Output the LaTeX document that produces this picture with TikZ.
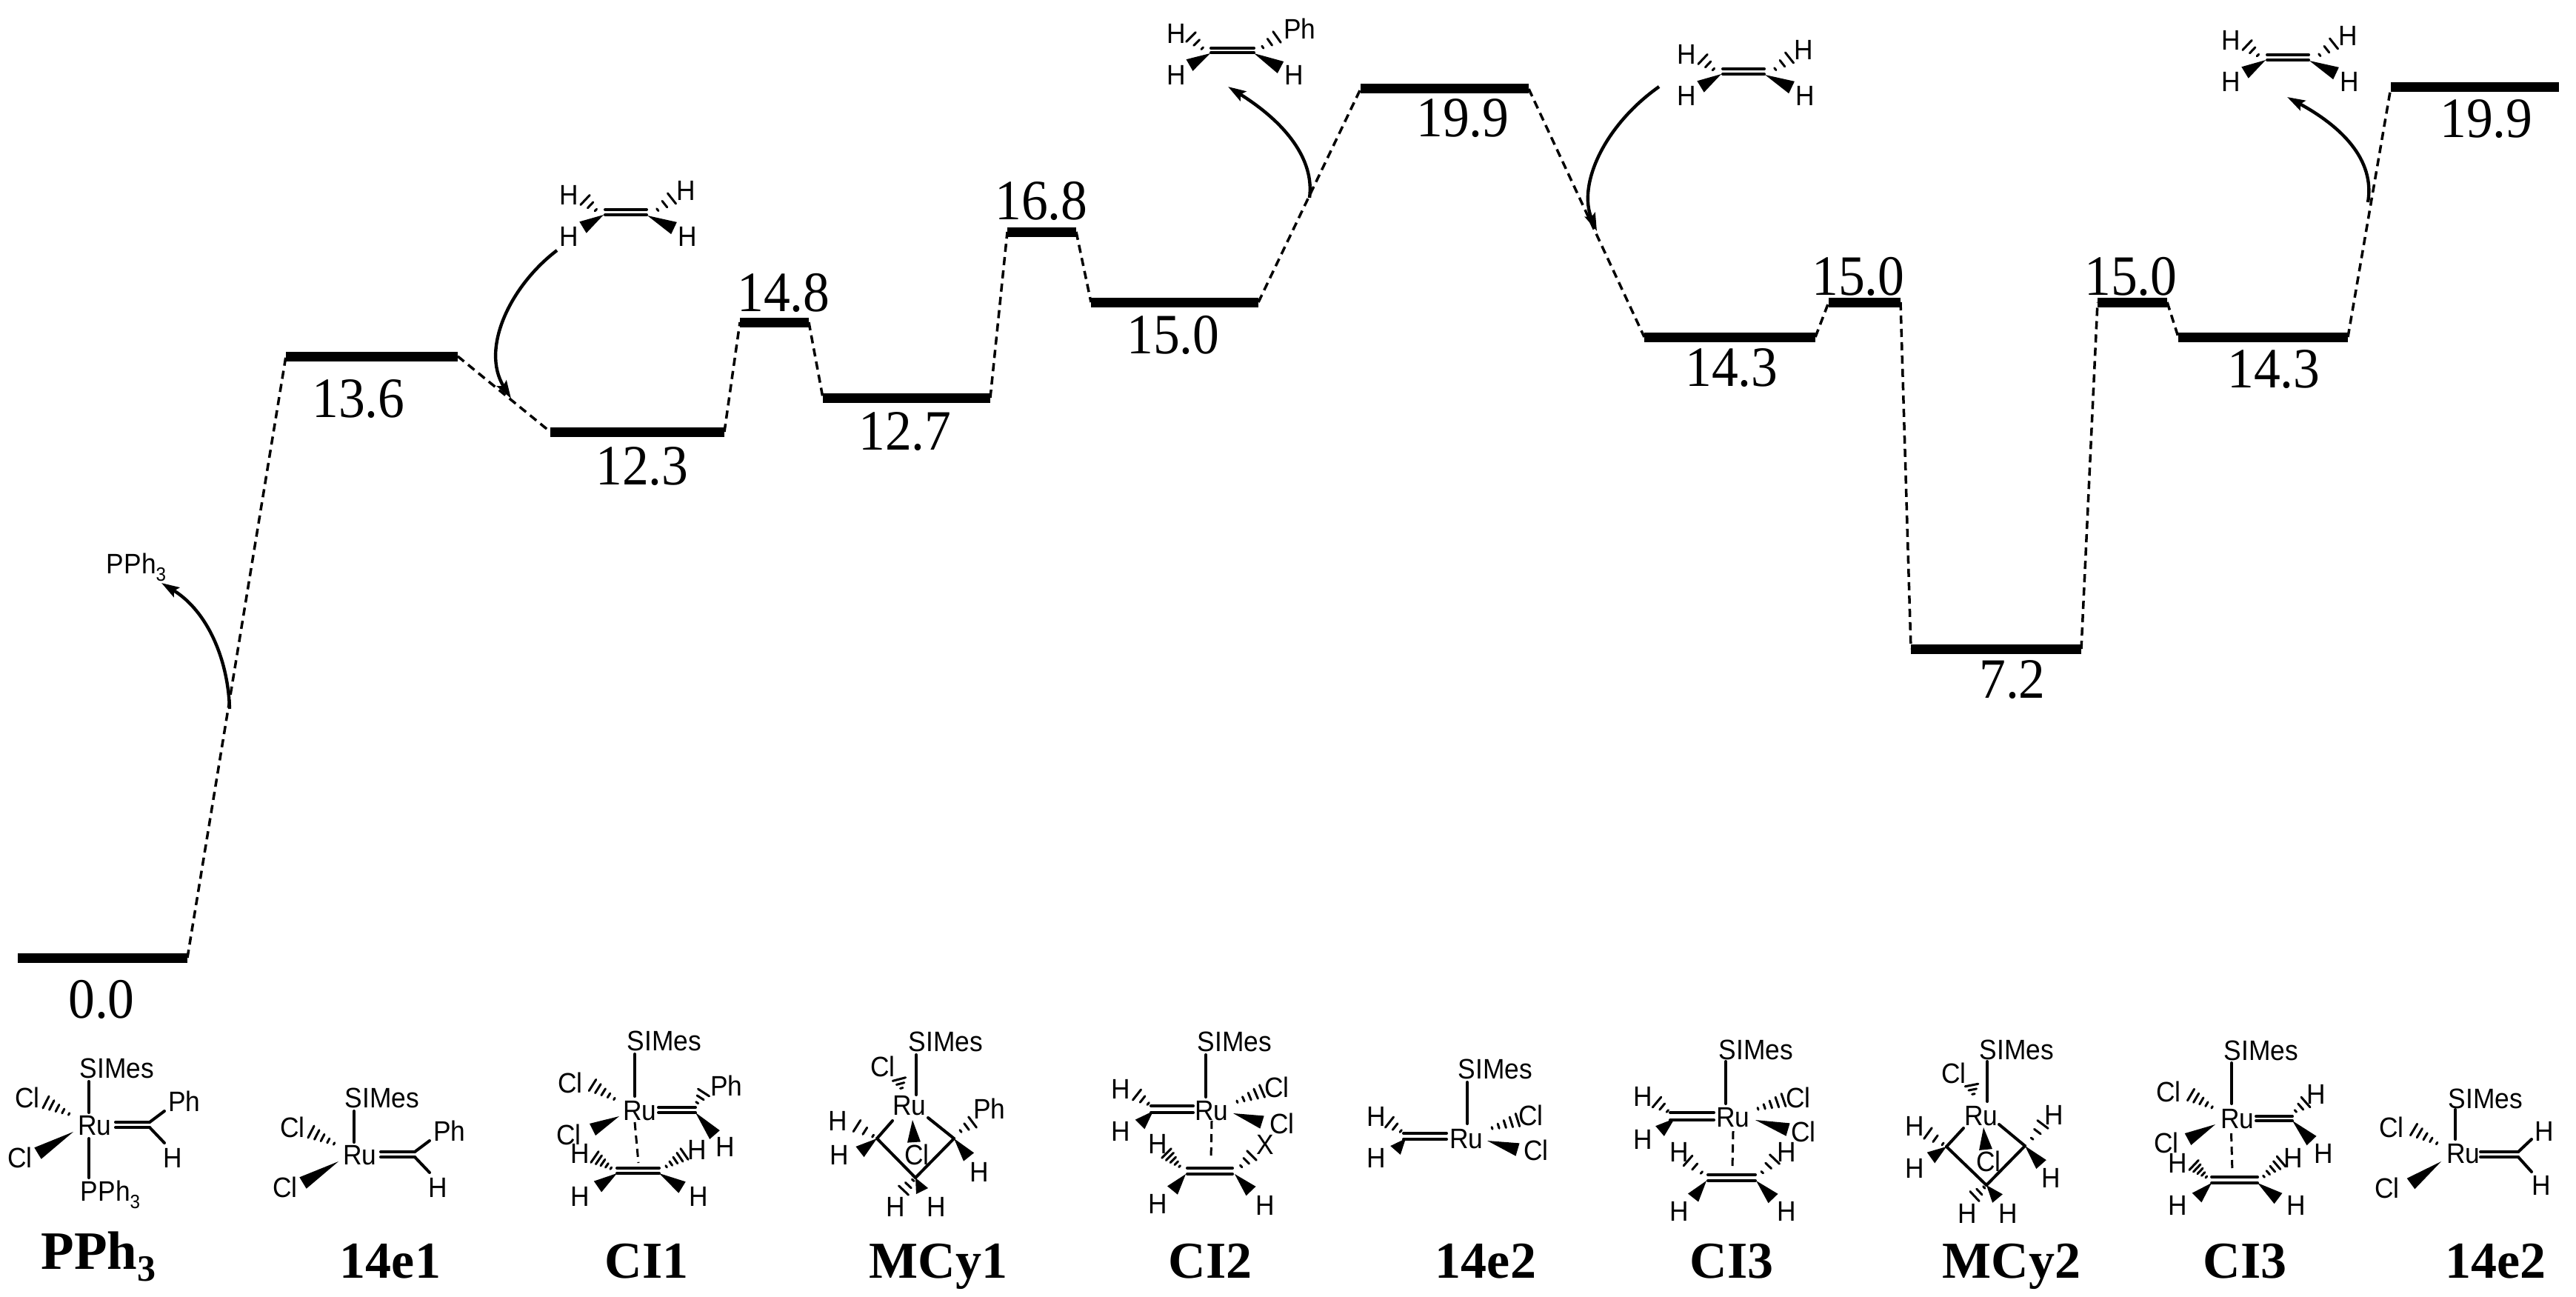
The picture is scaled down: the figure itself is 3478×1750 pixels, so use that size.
\documentclass[tikz,border=0pt]{standalone}
\usepackage{fontspec}
\setmainfont{Liberation Serif}
\newfontfamily\numf[FakeStretch=0.93]{Liberation Serif}
\newfontfamily\sansf[FakeStretch=0.93]{Liberation Sans}
\usetikzlibrary{calc,arrows.meta}
\tikzset{
  lvl/.style={rectangle,fill=black,inner sep=0pt,outer sep=0pt,minimum height=6.5pt,minimum width=#1*0.5pt},
  energy/.style={inner sep=0pt,font=\numf\fontsize{38.5pt}{40pt}\selectfont},
  species/.style={inner sep=0pt,anchor=base,font=\bfseries\fontsize{35pt}{37pt}\selectfont},
  atom/.style={inner sep=0pt,font=\sansf\fontsize{19pt}{21pt}\selectfont},
  path conn/.style={line width=1.75pt,dash pattern=on 5.5pt off 3.5pt},
  curved/.style={line width=2.2pt,-{Stealth[length=12pt,width=7.5pt,inset=2pt]}},
  bond/.style={line width=2pt,line cap=round},
  hashline/.style={line width=1.5pt,line cap=round},
  dbond/.style={line width=1.5pt,dash pattern=on 5.5pt off 3.5pt}
}
\newcommand\Pts[1]{\foreach \n/\xx/\yy in {#1}{\coordinate (\M\n) at (\xx,\yy);}}
\newcommand\aT[4]{\node[atom] (\M#1) at (#2,#3) {#4};}
\newcommand\bS[2]{\draw[bond] (\M#1) -- (\M#2);}
\newcommand\bD[2]{\draw[dbond] (\M#1) -- (\M#2);}
\newcommand\bW[2]{\fill (\M#1) -- ($(\M#2)!4.5pt!90:(\M#1)$) -- ($(\M#2)!4.5pt!-90:(\M#1)$) -- cycle;}
\newcommand\bH[2]{\foreach \hh in {0.16,0.37,0.58,0.79,1}{%
  \coordinate (hc) at ($(\M#1)!\hh!(\M#2)$);
  \draw[hashline] ($(hc)!\hh*4.5pt!90:(\M#1)$) -- ($(hc)!\hh*4.5pt!-90:(\M#1)$);}}
\newcommand\bHs[2]{\foreach \hh in {0.2,0.6,1}{%
  \coordinate (hc) at ($(\M#1)!\hh!(\M#2)$);
  \draw[hashline] ($(hc)!\hh*4.5pt!90:(\M#1)$) -- ($(hc)!\hh*4.5pt!-90:(\M#1)$);}}
\newcommand\PThree{PPh\raisebox{-0.28em}{\fontsize{13pt}{13pt}\selectfont 3}}
% ethylene drawn at the position of the first one
\newcommand\ethene{%
  \aT{hTL}{768}{263}{H}\aT{hBL}{768}{319}{H}\aT{hTR}{926}{257}{H}\aT{hBR}{928}{319}{H}
  \Pts{a/817/283,b/873/283,c/817/290,d/873/290,e/808/287,f/790/270,g/815/290,h/787/307,i/883/287,j/907/268,k/874/291,l/910/308}
  \bS{a}{b}\bS{c}{d}\bHs{e}{f}\bW{g}{h}\bHs{i}{j}\bW{k}{l}}
% carbene fragment shared by the first two complexes
\newcommand\carbene{%
  \aT{ru}{128}{1520}{Ru}\aT{sm}{158}{1442}{SIMes}\aT{clt}{37}{1482}{Cl}\aT{clb}{27}{1563}{Cl}
  \aT{ph}{249}{1487}{Ph}\aT{h}{233}{1563}{H}
  \Pts{a/120/1460,b/120/1502,c/99/1507,d/62/1488,e/99/1528,f/51/1557,g/156/1515,i/202/1515,j/156/1522,k/202/1522,l/222/1500,m/222/1543}
  \bS{a}{b}\bH{c}{d}\bW{e}{f}\bS{g}{i}\bS{j}{k}\bS{i}{l}\bS{k}{m}}
\begin{document}
\begin{tikzpicture}[x=0.5pt,y=-0.5pt]
\path[fill=white,use as bounding box] (0,0) rectangle (3478,1750);
% energy levels
\node[lvl=229] (L0) at (138.5,1293) {};
\node[lvl=232] (L1) at (502,481) {};
\node[lvl=235] (L2) at (860.5,583) {};
\node[lvl=93] (L3) at (1045.5,435) {};
\node[lvl=226] (L4) at (1224,537) {};
\node[lvl=93] (L5) at (1406.5,313) {};
\node[lvl=226] (L6) at (1586,408) {};
\node[lvl=227] (L7) at (1950.5,120) {};
\node[lvl=231] (L8) at (2335.5,455) {};
\node[lvl=97] (L9) at (2517.5,408) {};
\node[lvl=230] (L10) at (2695,876) {};
\node[lvl=94] (L11) at (2879,408) {};
\node[lvl=229] (L12) at (3055.5,455) {};
\node[lvl=227] (L13) at (3341.5,118) {};
% connectors
\foreach \a/\b in {0/1,1/2,2/3,3/4,4/5,5/6,6/7,7/8,8/9,9/10,10/11,11/12,12/13}
  \draw[path conn] (L\a.east) -- (L\b.west);
% energy labels
\node[energy] (e0) at (137,1349) {0.0};
\node[energy] (e1) at (484,539) {13.6};
\node[energy] (e2) at (867,630) {12.3};
\node[energy] (e3) at (1058,395) {14.8};
\node[energy] (e4) at (1222,583) {12.7};
\node[energy] (e5) at (1406,271) {16.8};
\node[energy] (e6) at (1584,452) {15.0};
\node[energy] (e7) at (1975,160) {19.9};
\node[energy] (e8) at (2338,497) {14.3};
\node[energy] (e9) at (2509,373) {15.0};
\node[energy] (e10) at (2717,918) {7.2};
\node[energy] (e11) at (2877,373) {15.0};
\node[energy] (e12) at (3070,499) {14.3};
\node[energy] (e13) at (3357,161) {19.9};
% species labels
\node[species,anchor=base west,font=\bfseries\fontsize{36.5pt}{38pt}\selectfont] (s0) at (55,1713) {PPh\raisebox{-0.22em}{\fontsize{25pt}{25pt}\selectfont 3}};
\node[species] (s1) at (527,1725) {14e1};
\node[species] (s2) at (873,1725) {CI1};
\node[species] (s3) at (1267,1725) {MCy1};
\node[species] (s4) at (1634,1725) {CI2};
\node[species] (s5) at (2006,1725) {14e2};
\node[species] (s6) at (2338,1725) {CI3};
\node[species] (s7) at (2716,1725) {MCy2};
\node[species] (s8) at (3031,1725) {CI3};
\node[species] (s9) at (3369,1725) {14e2};
% leaving and entering molecules
\node[atom] (pph) at (184,766) {\PThree};
\def\M{eA}\ethene
\begin{scope}[shift={(1509,-190)}]\def\M{eC}\ethene\end{scope}
\begin{scope}[shift={(2244,-209)}]\def\M{eD}\ethene\end{scope}
\def\M{eB}
\aT{hTL}{1588}{45}{H}\aT{hBL}{1588}{101}{H}\aT{ph}{1755}{39}{Ph}\aT{hBR}{1747}{101}{H}
\Pts{a/1635/65,b/1693/65,c/1635/71,d/1693/71,e/1627/69,f/1608/50,g/1634/72,h/1606/88,i/1700/67,j/1724/50,k/1693/72,l/1729/91}
\bS{a}{b}\bS{c}{d}\bHs{e}{f}\bW{g}{h}\bHs{i}{j}\bW{k}{l}
% curved arrows
\coordinate (c1a) at (310,957); \coordinate (c1b) at (218,787);
\draw[curved] (c1a) .. controls (308,890) and (280,825) .. (c1b);
\coordinate (c2a) at (752,338); \coordinate (c2b) at (690,538);
\draw[curved] (c2a) .. controls (690,385) and (648,470) .. (c2b);
\coordinate (c3a) at (1768,267); \coordinate (c3b) at (1658,117);
\draw[curved] (c3a) .. controls (1775,215) and (1735,165) .. (c3b);
\coordinate (c4a) at (2240,117); \coordinate (c4b) at (2156,312);
\draw[curved] (c4a) .. controls (2165,170) and (2130,250) .. (c4b);
\coordinate (c5a) at (3197,273); \coordinate (c5b) at (3088,131);
\draw[curved] (c5a) .. controls (3207,215) and (3160,170) .. (c5b);
% PPh3 complex
\def\M{mA}\carbene
\aT{p}{149}{1613}{\PThree}
\Pts{n/120/1537,o/120/1590}\bS{n}{o}
% 14e1
\begin{scope}[shift={(358,40)}]\def\M{mB}\carbene\end{scope}
% CI1
\def\M{mC}
\aT{ru}{864}{1500}{Ru}\aT{sm}{897}{1405}{SIMes}\aT{clt}{770}{1462}{Cl}\aT{clb}{768}{1532}{Cl}\aT{ph}{981}{1466}{Ph}\aT{hr}{979}{1548}{H}
\aT{h1}{783}{1557}{H}\aT{h2}{941}{1552}{H}\aT{h3}{783}{1615}{H}\aT{h4}{943}{1615}{H}
\Pts{a/857/1423,b/857/1480,c/835/1487,d/800/1465,e/836/1507,f/800/1525,g/889/1495,i/939/1495,j/889/1502,k/939/1502,l/939/1492,m/950/1475,n/965/1532,o/857/1515,p/862/1570,q/833/1577,r/890/1577,s/833/1584,t/890/1584,u/829/1580,v/803/1562,w/895/1578,x/924/1558,y/807/1602,z/921/1603}
\bS{a}{b}\bH{c}{d}\bW{e}{f}\bS{g}{i}\bS{j}{k}\bHs{l}{m}\bW{k}{n}\bD{o}{p}\bS{q}{r}\bS{s}{t}\bH{u}{v}\bH{w}{x}\bW{s}{y}\bW{t}{z}
% MCy1
\def\M{mD}
\aT{ru}{1228}{1493}{Ru}\aT{sm}{1277}{1406}{SIMes}\aT{clt}{1192}{1440}{Cl}\aT{clc}{1238}{1559}{Cl}\aT{ph}{1336}{1497}{Ph}
\aT{hr}{1322}{1582}{H}\aT{h1}{1131}{1513}{H}\aT{h2}{1133}{1559}{H}\aT{h3}{1209}{1629}{H}\aT{h4}{1264}{1629}{H}
\Pts{a/1237/1424,b/1237/1478,c/1218/1472,d/1214/1457,L/1184/1537,R/1288/1537,B/1236/1590,e/1205/1513,f/1253/1509,g/1232/1512,i/1234/1542,j/1293/1530,k/1313/1515,l/1308/1562,m/1157/1520,n/1161/1555,o/1220/1607,p/1245/1608}
\bS{a}{b}\bHs{c}{d}\bS{e}{L}\bS{f}{R}\bS{L}{B}\bS{R}{B}\bW{g}{i}\bHs{j}{k}\bW{R}{l}\bHs{L}{m}\bW{L}{n}\bHs{B}{o}\bW{B}{p}
% CI2
\def\M{mE}
\aT{ru}{1636}{1500}{Ru}\aT{sm}{1667}{1406}{SIMes}\aT{clt}{1724}{1468}{Cl}\aT{clb}{1731}{1517}{Cl}
\aT{h1}{1513}{1470}{H}\aT{h2}{1513}{1527}{H}\aT{h3}{1563}{1544}{H}\aT{x}{1708}{1545}{X}\aT{h4}{1563}{1625}{H}\aT{h5}{1708}{1627}{H}
\Pts{a/1628/1424,b/1628/1481,c/1664/1490,d/1704/1473,e/1665/1503,f/1704/1515,g/1554/1493,i/1611/1493,j/1554/1502,k/1611/1502,m/1535/1478,n/1557/1500,o/1539/1518,p/1636/1513,q/1635/1565,r/1603/1577,s/1664/1577,t/1603/1585,u/1664/1585,v/1596/1578,w/1575/1557,y/1672/1578,z/1690/1560,A/1601/1585,B/1583/1607,C/1667/1585,D/1689/1608}
\bS{a}{b}\bH{c}{d}\bW{e}{f}\bS{g}{i}\bS{j}{k}\bHs{g}{m}\bW{n}{o}\bD{p}{q}\bS{r}{s}\bS{t}{u}\bH{v}{w}\bHs{y}{z}\bW{A}{B}\bW{C}{D}
% 14e2 (middle)
\def\M{mF}
\aT{ru}{1980}{1538}{Ru}\aT{sm}{2019}{1443}{SIMes}\aT{clt}{2067}{1506}{Cl}\aT{clb}{2074}{1553}{Cl}\aT{h1}{1858}{1507}{H}\aT{h2}{1858}{1563}{H}
\Pts{a/1981/1461,b/1981/1517,c/2008/1525,d/2049/1512,e/2008/1540,f/2049/1552,g/1895/1530,i/1953/1530,j/1895/1538,k/1953/1538,m/1876/1515,n/1898/1537,o/1884/1553}
\bS{a}{b}\bH{c}{d}\bW{e}{f}\bS{g}{i}\bS{j}{k}\bHs{g}{m}\bW{n}{o}
% CI3 (first)
\def\M{mG}
\aT{ru}{2340}{1509}{Ru}\aT{sm}{2371}{1417}{SIMes}\aT{clt}{2428}{1482}{Cl}\aT{clb}{2435}{1528}{Cl}
\aT{h1}{2218}{1480}{H}\aT{h2}{2218}{1538}{H}\aT{h3}{2267}{1555}{H}\aT{h4}{2412}{1555}{H}\aT{h5}{2267}{1635}{H}\aT{h6}{2412}{1635}{H}
\Pts{a/2330/1433,b/2330/1490,c/2367/1499,d/2408/1485,e/2370/1512,f/2414/1525,g/2255/1502,i/2314/1502,j/2255/1512,k/2314/1512,l/2255/1503,m/2237/1488,n/2261/1510,o/2241/1527,p/2340/1527,q/2339/1577,r/2306/1586,s/2370/1586,t/2306/1594,u/2370/1594,v/2302/1587,w/2279/1567,x/2375/1587,y/2396/1565,A/2304/1594,B/2286/1617,C/2371/1594,D/2394/1618}
\bS{a}{b}\bH{c}{d}\bW{e}{f}\bS{g}{i}\bS{j}{k}\bHs{l}{m}\bW{n}{o}\bD{p}{q}\bS{r}{s}\bS{t}{u}\bHs{v}{w}\bHs{x}{y}\bW{A}{B}\bW{C}{D}
% MCy2
\def\M{mH}
\aT{ru}{2675}{1507}{Ru}\aT{sm}{2723}{1417}{SIMes}\aT{clt}{2638}{1449}{Cl}\aT{clc}{2685}{1568}{Cl}
\aT{h1}{2585}{1520}{H}\aT{h2}{2585}{1577}{H}\aT{h3}{2773}{1505}{H}\aT{h4}{2769}{1590}{H}\aT{h5}{2656}{1638}{H}\aT{h6}{2711}{1638}{H}
\Pts{a/2683/1433,b/2683/1487,c/2665/1480,d/2662/1465,L/2628/1548,R/2734/1547,B/2682/1600,e/2651/1523,f/2699/1518,g/2678/1522,i/2681/1552,j/2603/1530,k/2607/1563,l/2740/1542,m/2758/1518,n/2756/1572,o/2666/1615,p/2697/1618}
\bS{a}{b}\bHs{c}{d}\bS{e}{L}\bS{f}{R}\bS{L}{B}\bS{R}{B}\bW{g}{i}\bHs{L}{j}\bW{L}{k}\bHs{l}{m}\bW{R}{n}\bHs{B}{o}\bW{B}{p}
% CI3 (second)
\def\M{mI}
\aT{ru}{3021}{1511}{Ru}\aT{sm}{3053}{1418}{SIMes}\aT{clt}{2928}{1474}{Cl}\aT{clb}{2925}{1543}{Cl}\aT{h1}{3127}{1477}{H}\aT{h2}{3137}{1557}{H}
\aT{h3}{2940}{1570}{H}\aT{h4}{3096}{1563}{H}\aT{h5}{2940}{1627}{H}\aT{h6}{3100}{1627}{H}
\Pts{a/3013/1435,b/3013/1490,c/2992/1498,d/2958/1478,e/2991/1518,f/2954/1538,g/3046/1507,i/3095/1507,j/3046/1513,k/3095/1513,l/3096/1503,m/3113/1488,n/3121/1540,o/3012.5/1530,p/3014/1583,q/2986/1589,r/3048/1589,s/2986/1597,t/3048/1597,u/2982/1592,v/2962/1573,w/3052/1592,x/3080/1568,y/2966/1617,z/3076/1618}
\bS{a}{b}\bH{c}{d}\bW{e}{f}\bS{g}{i}\bS{j}{k}\bHs{l}{m}\bW{k}{n}\bD{o}{p}\bS{q}{r}\bS{s}{t}\bH{u}{v}\bH{w}{x}\bW{s}{y}\bW{t}{z}
% 14e2 (last)
\def\M{mJ}
\aT{ru}{3326}{1558}{Ru}\aT{sm}{3356}{1483}{SIMes}\aT{clt}{3229}{1522}{Cl}\aT{clb}{3223}{1604}{Cl}\aT{h1}{3435}{1527}{H}\aT{h2}{3431}{1600}{H}
\Pts{a/3315/1498,b/3315/1538,c/3296/1547,d/3259/1525,e/3296/1568,f/3255/1598,g/3349/1555,i/3400/1555,j/3349/1562,k/3400/1562,l/3418/1538,m/3418/1582}
\bS{a}{b}\bH{c}{d}\bW{e}{f}\bS{g}{i}\bS{j}{k}\bS{i}{l}\bS{k}{m}
\end{tikzpicture}
\end{document}
